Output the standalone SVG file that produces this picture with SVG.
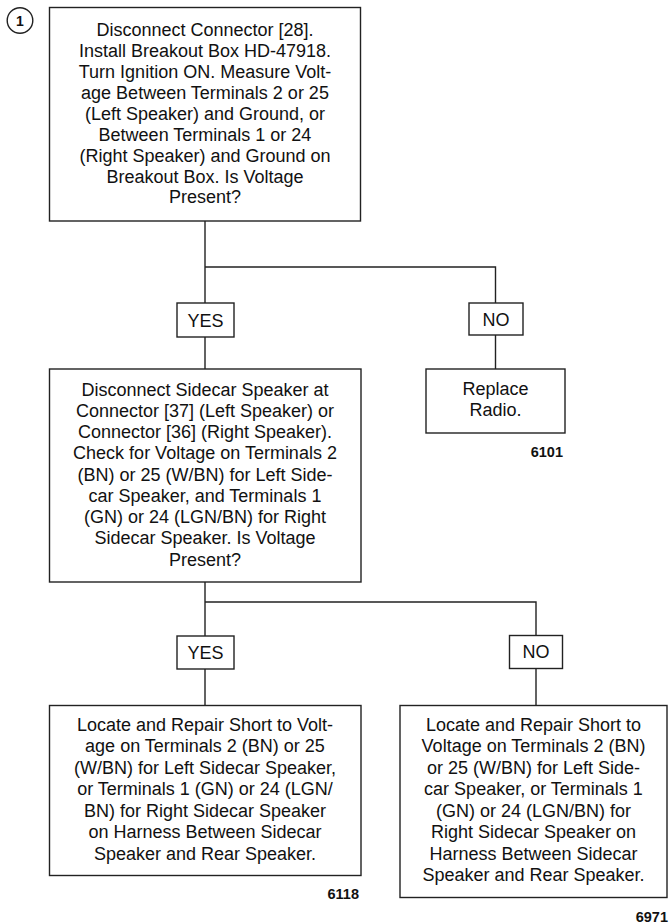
<svg xmlns="http://www.w3.org/2000/svg" width="669" height="923" viewBox="0 0 669 923">
<style>
.box{fill:#fff;stroke:#222;stroke-width:1.4}
.ln{fill:none;stroke:#222;stroke-width:1.4}
.t{font-family:"Liberation Sans",Arial,sans-serif;font-size:18px;fill:#111;text-anchor:middle}
.lb{font-family:"Liberation Sans",Arial,sans-serif;font-size:18px;fill:#111;text-anchor:middle}
.id{font-family:"Liberation Sans",Arial,sans-serif;font-size:14.5px;font-weight:bold;fill:#111;text-anchor:end}
</style>
<rect width="669" height="923" fill="#fff"/>
<g id="step1">
<circle cx="20" cy="20.5" r="12.8" fill="#fff" stroke="#222" stroke-width="1.4"/>
<text x="20" y="25.5" font-family="Liberation Sans,Arial,sans-serif" font-size="14" font-weight="bold" text-anchor="middle" fill="#111">1</text>
</g>
<g id="connectors">
<path class="ln" d="M205,221 V303 M205,337 V369 M205,267 H495.5 V303 M495.5,335 V369"/>
<path class="ln" d="M205,582 V636 M205,669 V705.5 M205,602 H536 V635.5 M536,668.5 V705.5"/>
</g>
<g id="q1">
<rect class="box" x="49.5" y="7.5" width="311" height="213.5"/>
<text class="t"><tspan x="205" y="36">Disconnect Connector [28].</tspan><tspan x="205" y="57">Install Breakout Box HD-47918.</tspan><tspan x="205" y="78">Turn Ignition ON. Measure Volt-</tspan><tspan x="205" y="99">age Between Terminals 2 or 25</tspan><tspan x="205" y="120">(Left Speaker) and Ground, or</tspan><tspan x="205" y="140.5">Between Terminals 1 or 24</tspan><tspan x="205" y="161.5">(Right Speaker) and Ground on</tspan><tspan x="205" y="182.5">Breakout Box. Is Voltage</tspan><tspan x="205" y="203">Present?</tspan></text>
</g>
<g id="yes1">
<rect class="box" x="177" y="303" width="57" height="34"/>
<text class="lb" x="205.5" y="326.5">YES</text>
</g>
<g id="no1">
<rect class="box" x="469" y="303" width="54" height="32"/>
<text class="lb" x="496" y="325.5">NO</text>
</g>
<g id="replace">
<rect class="box" x="426" y="369" width="139" height="64"/>
<text class="t"><tspan x="495.5" y="394.5">Replace</tspan><tspan x="495.5" y="415.5">Radio.</tspan></text>
<text class="id" x="563" y="456.5">6101</text>
</g>
<g id="q2">
<rect class="box" x="49.5" y="369" width="311.5" height="213"/>
<text class="t"><tspan x="205" y="395.5">Disconnect Sidecar Speaker at</tspan><tspan x="205" y="416.8">Connector [37] (Left Speaker) or</tspan><tspan x="205" y="438">Connector [36] (Right Speaker).</tspan><tspan x="205" y="459.3">Check for Voltage on Terminals 2</tspan><tspan x="205" y="480.5">(BN) or 25 (W/BN) for Left Side-</tspan><tspan x="205" y="501.8">car Speaker, and Terminals 1</tspan><tspan x="205" y="523">(GN) or 24 (LGN/BN) for Right</tspan><tspan x="205" y="544.3">Sidecar Speaker. Is Voltage</tspan><tspan x="205" y="565.5">Present?</tspan></text>
</g>
<g id="yes2">
<rect class="box" x="177" y="636" width="57" height="33"/>
<text class="lb" x="205.5" y="659">YES</text>
</g>
<g id="no2">
<rect class="box" x="509.5" y="635.5" width="53" height="33"/>
<text class="lb" x="536" y="658">NO</text>
</g>
<g id="fixYes">
<rect class="box" x="49.5" y="705.5" width="311.5" height="170"/>
<text class="t"><tspan x="205" y="730.5">Locate and Repair Short to Volt-</tspan><tspan x="205" y="752">age on Terminals 2 (BN) or 25</tspan><tspan x="205" y="773.5">(W/BN) for Left Sidecar Speaker,</tspan><tspan x="205" y="795">or Terminals 1 (GN) or 24 (LGN/</tspan><tspan x="205" y="816.5">BN) for Right Sidecar Speaker</tspan><tspan x="205" y="838">on Harness Between Sidecar</tspan><tspan x="205" y="859.5">Speaker and Rear Speaker.</tspan></text>
<text class="id" x="359" y="898.5">6118</text>
</g>
<g id="fixNo">
<rect class="box" x="400" y="705.5" width="267" height="192"/>
<text class="t"><tspan x="533.5" y="730.5">Locate and Repair Short to</tspan><tspan x="533.5" y="752">Voltage on Terminals 2 (BN)</tspan><tspan x="533.5" y="773.5">or 25 (W/BN) for Left Side-</tspan><tspan x="533.5" y="795">car Speaker, or Terminals 1</tspan><tspan x="533.5" y="816.5">(GN) or 24 (LGN/BN) for</tspan><tspan x="533.5" y="838">Right Sidecar Speaker on</tspan><tspan x="533.5" y="859.5">Harness Between Sidecar</tspan><tspan x="533.5" y="881">Speaker and Rear Speaker.</tspan></text>
<text class="id" x="668" y="921.5">6971</text>
</g>
</svg>
